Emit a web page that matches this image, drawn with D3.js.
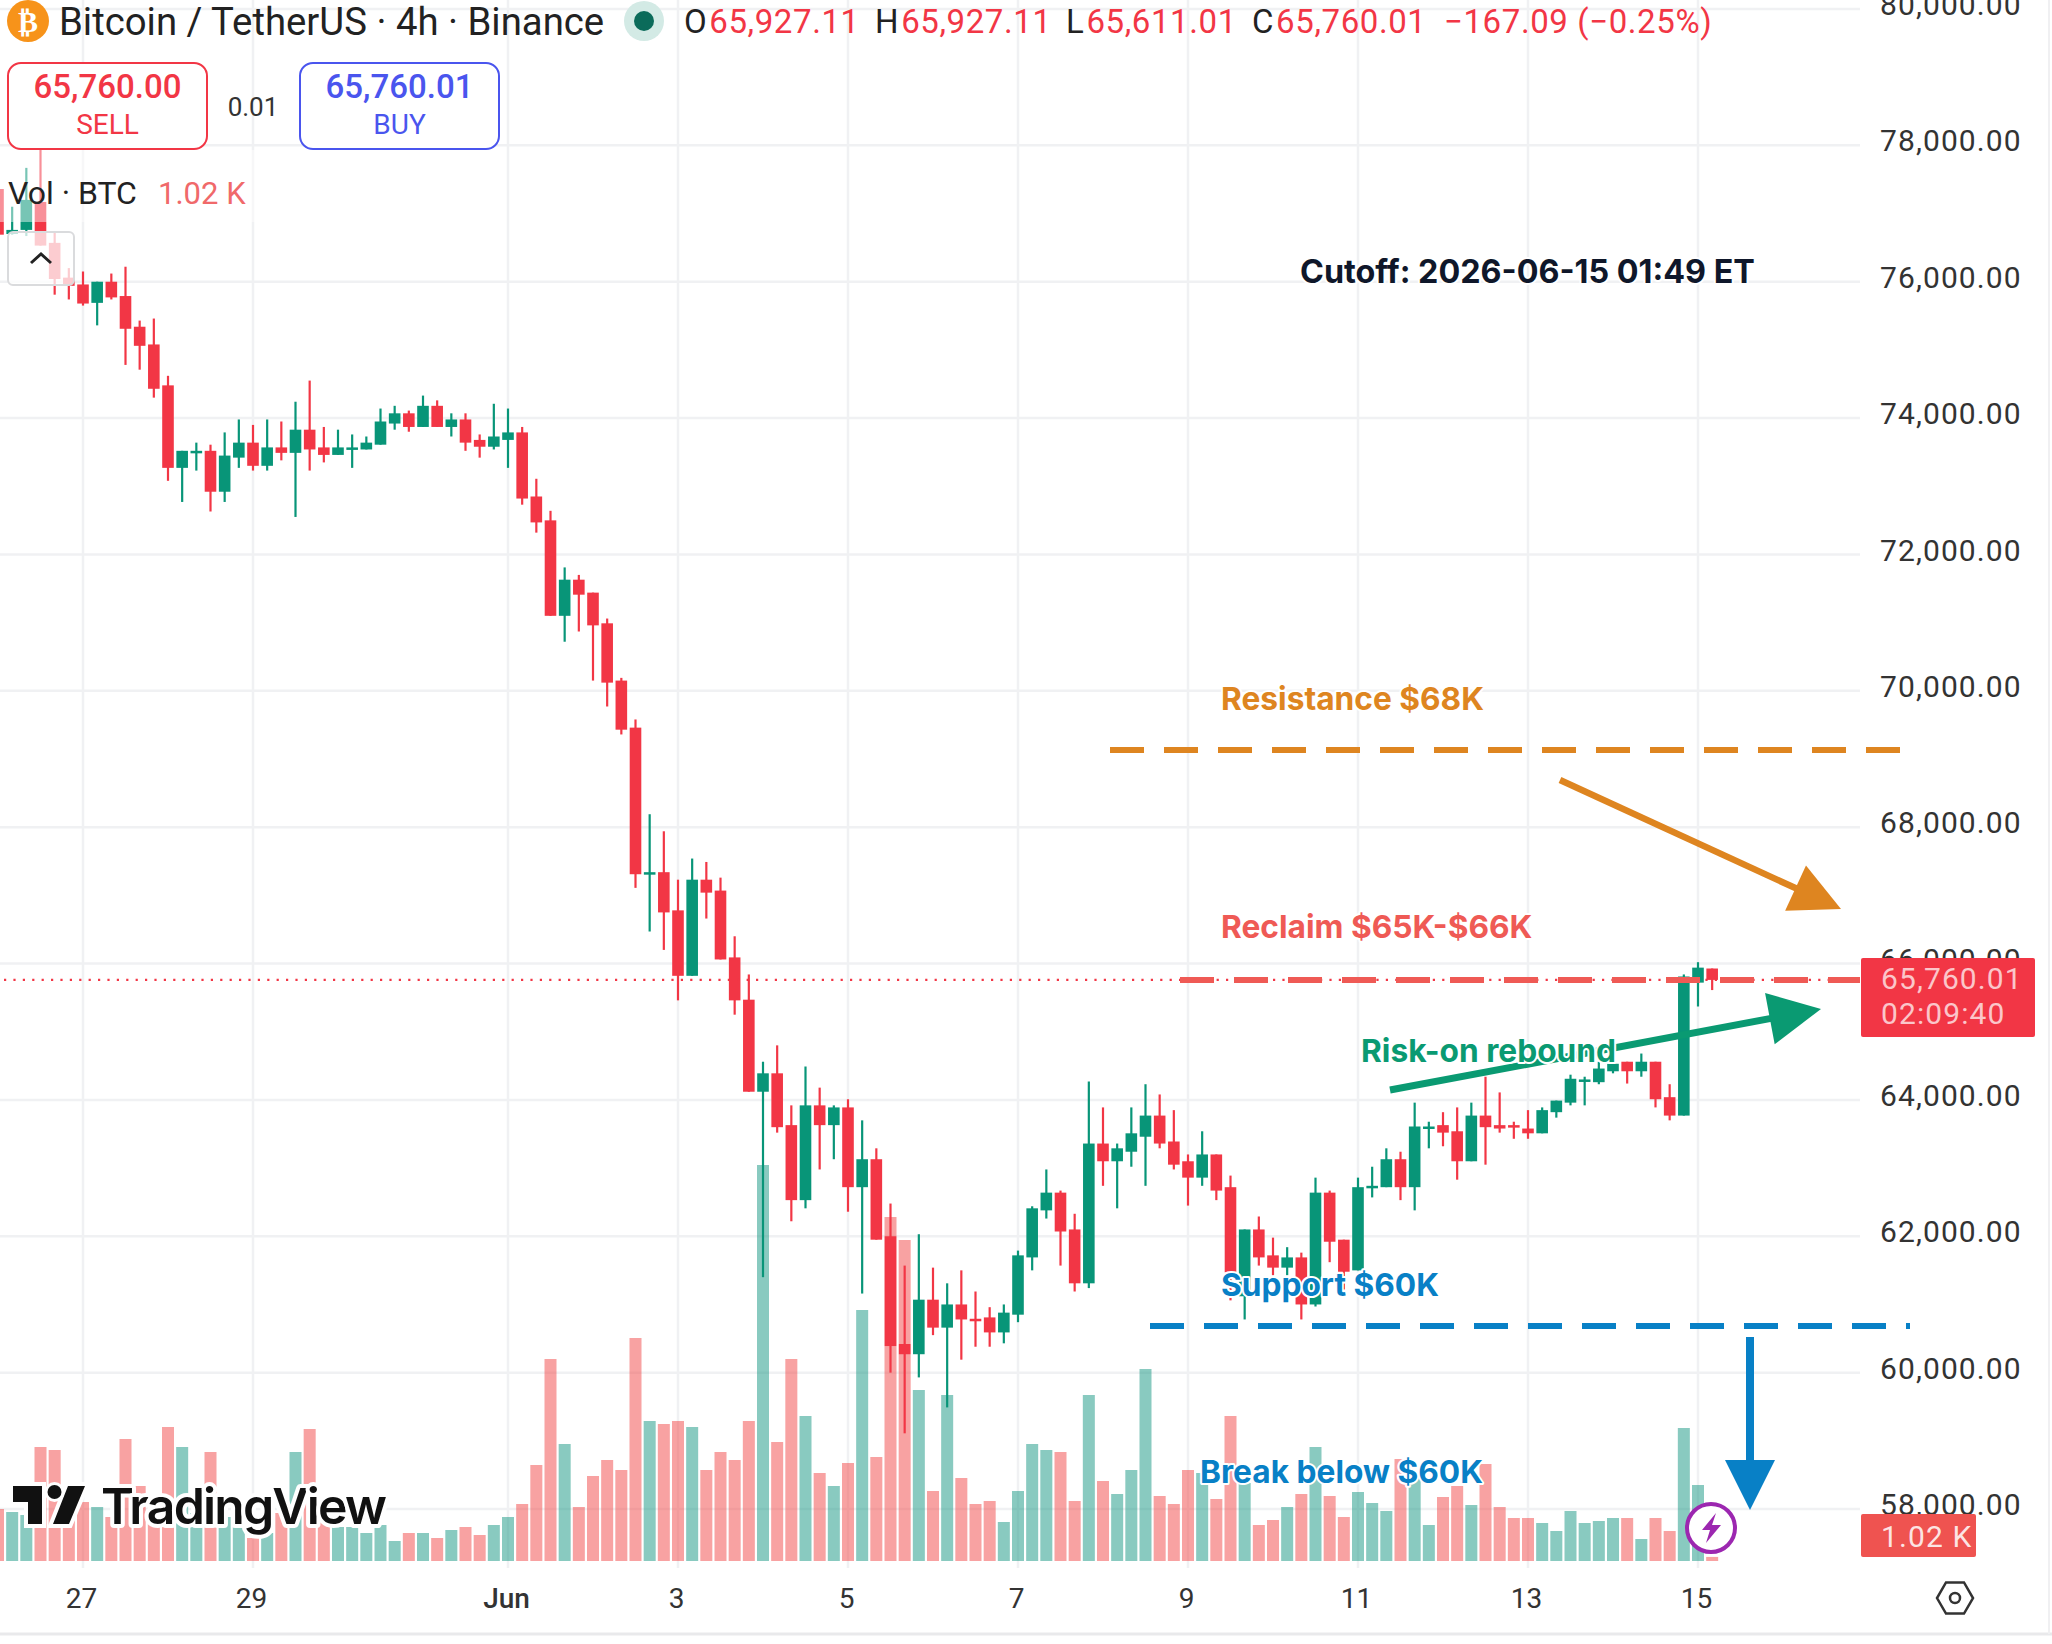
<!DOCTYPE html>
<html>
<head>
<meta charset="utf-8">
<title>BTC/USDT 4h</title>
<script src="https://cdnjs.cloudflare.com/ajax/libs/d3/7.8.5/d3.min.js"></script>
<style>
  html, body { margin: 0; padding: 0; background: #fff; }
  svg { display: block; }
  text { font-family: Roboto, sans-serif; }
</style>
</head>
<body>
<svg id="chart" width="2052" height="1644"></svg>
<script>
// 4-hour candles, oldest first. Candle 36 opens 1 June.
const opens = [77360,76700,76760,77170,76570,76060,75960,75690,76000,75790,75340,75080,74480,73270,73490,73520,72920,73420,73640,73300,73570,73490,73830,73570,73460,73550,73540,73610,73920,74070,73870,74180,73870,73980,73680,73580,73680,73790,72850,72500,71100,71630,71440,70990,70150,69460,67310,67340,66780,65820,67230,67070,66090,65470,64120,64390,63630,62530,63920,63630,63890,62720,63130,62000,60420,60270,61070,60660,61000,60790,60810,60590,60850,61690,62380,62640,62100,61310,63360,63100,63240,63460,63770,63390,63100,62860,63200,62720,61120,62100,61720,61540,61690,61000,62640,61950,61500,62730,62720,63130,62720,63600,63630,63540,63100,63770,63630,63630,63580,63510,63820,63960,64270,64260,64420,64560,64420,64560,64040,63770,65720,65927.11];
const highs = [77420,77100,77670,77940,76730,76200,76150,76000,76120,76220,75430,75460,74620,73520,73640,73610,73790,73980,73900,73980,73950,74240,74550,73870,73830,73760,73730,74140,74180,74110,74330,74260,74070,74070,73760,74210,74140,73870,73110,72640,71810,71700,71440,71060,70190,69580,68190,67940,67230,67540,67490,67260,66400,65840,64560,64800,63920,64490,64180,63920,64010,63700,63290,62480,61570,62030,61540,61310,61500,61190,60960,61000,61790,62440,62980,62670,62330,64270,63890,63360,63890,64230,64080,63850,63200,63540,63200,62890,62100,62290,61980,61840,61760,62860,62670,61950,62860,63020,63290,63240,63960,63680,63820,63890,63960,64340,64110,63680,63850,63890,63990,64370,64340,64560,64560,64560,64680,64560,64230,65840,66020,65927.11];
const lows = [76620,76690,76670,76530,75810,75740,75650,75360,75740,74780,74710,74300,73080,72770,73230,72630,72770,73270,73230,73230,73380,72550,73230,73350,73460,73270,73540,73610,73830,73800,73870,73870,73730,73520,73420,73540,73270,72730,72320,71100,70720,70870,70150,69770,69360,67110,66470,66200,65460,65820,66660,66060,65250,64120,61400,63520,62220,62410,62980,63130,62360,61160,61950,60000,59110,59930,60550,59490,60190,60380,60380,60430,60740,61500,62260,61570,61190,61240,62740,62410,63020,62740,63290,62980,62450,62740,62530,61060,60780,61570,61430,61430,60780,60970,61620,61220,61500,62570,62720,62530,62380,63290,63320,62830,63100,63050,63520,63430,63430,63510,63740,63920,63920,64230,64390,64240,64340,63890,63700,63770,65370,65611.01];
const closes = [76690,76760,77200,76530,76040,75940,75680,76000,75770,75310,75060,74430,73270,73520,73520,72920,73450,73640,73300,73570,73490,73830,73540,73460,73570,73570,73640,73950,74070,73870,74180,73870,73980,73640,73580,73730,73790,72820,72470,71100,71630,71410,70960,70120,69430,67310,67340,66750,65820,67230,67040,66060,65460,64120,64390,63600,62530,63920,63630,63890,62720,63130,61950,60390,60270,61070,60660,61000,60780,60770,60590,60880,61720,62410,62640,62070,61310,63360,63100,63290,63510,63770,63360,63050,62860,63200,62670,61470,62100,61690,61540,61690,61000,62640,61920,61480,62720,62740,63130,62720,63610,63610,63520,63100,63770,63600,63580,63600,63510,63850,63990,64310,64300,64460,64530,64420,64560,64010,63770,65810,65940,65760.01];

// Volume per candle, thousands of BTC.
const volumes = [13,12.25,11.5,28.5,27.75,11.25,14.75,13.5,11,30.5,18.75,13.5,33.5,28.5,12,27.25,11,8.5,5.75,7,12,27.25,33,12,8.5,8.5,7,9,5,7,7,5.75,7.75,8.5,6.5,9,11,14.25,24,50.5,29.25,13.5,21.25,25.25,22.75,55.75,35,34.25,35,33.5,22.75,27.25,25.25,35,99,29.75,50.5,36.25,22,18.75,24.5,62.75,26,86,80.25,42.75,17.5,41.5,20.75,14.25,15,9.75,17.5,29.25,27.75,27.25,15,41.5,20,16.75,22.75,48,16.25,14.25,22.75,22,15.5,36.25,19.5,9,10.25,13.5,16.75,28.5,16.25,11,17.25,14.5,12.5,25.5,21.5,9,16,18.75,14,24.25,13.5,10.75,10.75,9.5,7.5,12.5,9.5,10,10.75,10.75,5.5,10.75,7.5,33.25,19,1.02];

const priceTicks = [58000,60000,62000,64000,66000,68000,70000,72000,74000,76000,78000,80000];
const dayTicks = [6,18,36,48,60,72,84,96,108,120];
const dayLabels = ["27","29","Jun","3","5","7","9","11","13","15"];

const lastPrice = 65760.01, bidPrice = "65,760.00", askPrice = "65,760.01";
const resistanceLevel = 68000, supportLevel = 60000;

const RED = "#F23645", GREEN = "#089578";
const ORANGE = "#DE8520", CORAL = "#EF5A55", TEAL = "#0A9A72", BLUE = "#0880C6";

const svg = d3.select("#chart");
const x = d3.scaleLinear().domain([36, 108]).range([508, 1528]);
const y = d3.scaleLinear().domain([58000, 80000]).range([1509, 9]);
const volY = d3.scaleLinear().domain([0, 100]).range([1561, 1161]);
// The drawn support and resistance levels sit on their own overlay scale.
const levelY = d3.scaleLinear().domain([60000, 68000]).range([1326, 750]);

const paneRight = 1860, paneBottom = 1568;
const idx = d3.range(opens.length);

// Grid
const gridColor = "#F0F1F3";
svg.append("g").selectAll("line").data(priceTicks).join("line")
  .attr("x1", 0).attr("x2", paneRight).attr("y1", d => y(d)).attr("y2", d => y(d))
  .attr("stroke", gridColor).attr("stroke-width", 2.5);
svg.append("g").selectAll("line").data(dayTicks).join("line")
  .attr("x1", d => x(d)).attr("x2", d => x(d)).attr("y1", 0).attr("y2", paneBottom)
  .attr("stroke", gridColor).attr("stroke-width", 2.5);

// Pane frame
svg.append("line").attr("x1", 0).attr("x2", 2052).attr("y1", 1634).attr("y2", 1634)
  .attr("stroke", "#E9E9EB").attr("stroke-width", 3);
svg.append("line").attr("x1", 2049).attr("x2", 2049).attr("y1", 0).attr("y2", 1634)
  .attr("stroke", "#F0F0F2").attr("stroke-width", 2);

// Axes
const yAxis = d3.axisRight(y).tickValues(priceTicks).tickFormat(d3.format(",.2f")).tickSize(0).tickPadding(20);
svg.append("g").attr("transform", `translate(${paneRight},-4)`).call(yAxis)
  .call(g => g.select(".domain").remove())
  .selectAll("text").attr("font-size", 30).attr("fill", "#333").style("letter-spacing", "1.1px");

const xAxis = d3.axisBottom(x).tickValues(dayTicks).tickFormat((d, i) => dayLabels[i]).tickSize(0).tickPadding(0);
svg.append("g").attr("transform", "translate(-2,1588.5)").call(xAxis)
  .call(g => g.select(".domain").remove())
  .selectAll("text").attr("font-size", 28).attr("fill", "#333").attr("dy", "0.71em")
  .attr("font-weight", d => d === 36 ? 500 : 400);

// Volume
svg.append("g").selectAll("rect").data(idx).join("rect")
  .attr("x", d => x(d) - 6).attr("width", 12)
  .attr("y", d => volY(volumes[d])).attr("height", d => volY(0) - volY(volumes[d]))
  .attr("fill", d => closes[d] >= opens[d] ? "rgba(20,150,130,0.5)" : "rgba(242,70,70,0.5)");

// Candles
const candle = svg.append("g").selectAll("g").data(idx).join("g")
  .attr("fill", d => closes[d] >= opens[d] ? GREEN : RED)
  .attr("stroke", d => closes[d] >= opens[d] ? GREEN : RED);
candle.append("line")
  .attr("x1", d => x(d)).attr("x2", d => x(d))
  .attr("y1", d => y(highs[d])).attr("y2", d => y(lows[d]))
  .attr("stroke-width", 2.2);
candle.append("rect")
  .attr("x", d => x(d) - 5.8).attr("width", 11.6)
  .attr("y", d => y(Math.max(opens[d], closes[d])))
  .attr("height", d => Math.max(2.5, Math.abs(y(opens[d]) - y(closes[d]))))
  .attr("stroke", "none");

// Last price line
svg.append("line").attr("x1", 4).attr("x2", paneRight).attr("y1", y(lastPrice)).attr("y2", y(lastPrice))
  .attr("stroke", RED).attr("stroke-width", 2.2).attr("stroke-dasharray", "2.2 7.2");

// Legend veil over the oldest candles, then legend widgets
svg.append("rect").attr("x", 0).attr("y", 150).attr("width", 260).attr("height", 72).attr("fill", "rgba(255,255,255,0.45)");
svg.append("rect").attr("x", 8).attr("y", 232).attr("width", 66).attr("height", 53).attr("rx", 5)
  .attr("fill", "rgba(255,255,255,0.75)").attr("stroke", "#DADBDD").attr("stroke-width", 2);
svg.append("path").attr("d", "M31 263 L41 254 L51 263").attr("fill", "none").attr("stroke", "#222").attr("stroke-width", 3);

svg.append("circle").attr("cx", 28).attr("cy", 21).attr("r", 21).attr("fill", "#F7931A");
svg.append("text").attr("x", 28).attr("y", 32).attr("text-anchor", "middle").attr("fill", "#fff")
  .attr("font-size", 30).attr("font-weight", 700).style("font-family", "DejaVu Sans").text("₿");
svg.append("text").attr("x", 59).attr("y", 35).attr("font-size", 38.3).attr("fill", "#222").text("Bitcoin / TetherUS · 4h · Binance");
svg.append("circle").attr("cx", 644).attr("cy", 21).attr("r", 20).attr("fill", "#D3EAE5");
svg.append("circle").attr("cx", 644).attr("cy", 21).attr("r", 10).attr("fill", "#0B6B5A");

const ohlc = [["O","65,927.11",684],["H","65,927.11",875],["L","65,611.01",1066],["C","65,760.01",1252]];
ohlc.forEach(([k, v, px]) => {
  const t = svg.append("text").attr("x", px).attr("y", 33).attr("font-size", 33).style("letter-spacing", "0.6px");
  t.append("tspan").attr("fill", "#222").text(k);
  t.append("tspan").attr("fill", RED).attr("dx", 2).text(v);
});
svg.append("text").attr("x", 1444).attr("y", 33).attr("font-size", 33).style("letter-spacing", "0.6px").attr("fill", RED).text("−167.09 (−0.25%)");

[[8, RED, bidPrice, "SELL"], [300, "#4A55EE", askPrice, "BUY"]].forEach(([bx, c, p, lab]) => {
  svg.append("rect").attr("x", bx).attr("y", 63).attr("width", 199).attr("height", 86).attr("rx", 13)
    .attr("fill", "#fff").attr("stroke", c).attr("stroke-width", 2);
  svg.append("text").attr("x", bx + 99.5).attr("y", 98).attr("text-anchor", "middle")
    .attr("font-size", 33).attr("font-weight", 500).attr("fill", c).text(p);
  svg.append("text").attr("x", bx + 99.5).attr("y", 134).attr("text-anchor", "middle")
    .attr("font-size", 28).attr("fill", c).text(lab);
});
svg.append("text").attr("x", 253).attr("y", 116).attr("text-anchor", "middle").attr("font-size", 26).attr("fill", "#333").text("0.01");
svg.append("text").attr("x", 8).attr("y", 204).attr("font-size", 32).attr("fill", "#222").text("Vol · BTC");
svg.append("text").attr("x", 158).attr("y", 204).attr("font-size", 31).attr("fill", "#F0696A").text("1.02 K");

// Watermark
const logo = svg.append("g");
const mark = "M13 1486 H42 V1524 H28 V1502 H13 Z M68 1486 H85 L69 1524 H53 Z";
logo.append("path").attr("d", mark).attr("fill", "#111").attr("stroke", "#fff").attr("stroke-width", 8).attr("paint-order", "stroke");
logo.append("circle").attr("cx", 54.5).attr("cy", 1492).attr("r", 7).attr("fill", "#111").attr("stroke", "#fff").attr("stroke-width", 6).attr("paint-order", "stroke");
logo.append("text").attr("x", 101).attr("y", 1524).attr("font-size", 50).attr("font-weight", 600)
  .style("font-family", "Inter").attr("fill", "#111").attr("stroke", "#fff").attr("stroke-width", 8)
  .attr("paint-order", "stroke").attr("stroke-linejoin", "round").attr("textLength", 286).text("TradingView");

// Overlay levels
const dash = "34 20";
svg.append("line").attr("x1", 1110).attr("x2", 1900).attr("y1", levelY(resistanceLevel)).attr("y2", levelY(resistanceLevel))
  .attr("stroke", ORANGE).attr("stroke-width", 6).attr("stroke-dasharray", dash);
svg.append("line").attr("x1", 1180).attr("x2", paneRight).attr("y1", y(lastPrice)).attr("y2", y(lastPrice))
  .attr("stroke", CORAL).attr("stroke-width", 6).attr("stroke-dasharray", dash);
svg.append("line").attr("x1", 1150).attr("x2", 1910).attr("y1", levelY(supportLevel)).attr("y2", levelY(supportLevel))
  .attr("stroke", BLUE).attr("stroke-width", 6).attr("stroke-dasharray", dash);

// Overlay arrows: shaft then head
function arrow(x0, y0, x1, y1, width, headLen, headHalf, color) {
  const L = Math.hypot(x1 - x0, y1 - y0), ux = (x1 - x0) / L, uy = (y1 - y0) / L;
  const bx = x1 - ux * headLen, by = y1 - uy * headLen;
  svg.append("line").attr("x1", x0).attr("y1", y0).attr("x2", bx + ux * 4).attr("y2", by + uy * 4)
    .attr("stroke", color).attr("stroke-width", width);
  svg.append("path").attr("fill", color)
    .attr("d", `M${x1} ${y1} L${bx - uy * headHalf} ${by + ux * headHalf} L${bx + uy * headHalf} ${by - ux * headHalf} Z`);
}
arrow(1560, 780, 1841, 909, 6.5, 50, 25, ORANGE);
arrow(1390, 1090, 1821, 1009, 7, 52, 26, TEAL);
arrow(1750, 1337, 1750, 1510, 8, 50, 25, BLUE);

// Overlay labels
const notes = [
  ["Cutoff: 2026-06-15 01:49 ET", 1300, 283, "#0F172A", 32.3],
  ["Resistance $68K", 1221, 710, ORANGE, 31.7],
  ["Reclaim $65K-$66K", 1221, 938, CORAL, 31.7],
  ["Risk-on rebound", 1361, 1062, TEAL, 31.7],
  ["Support $60K", 1221, 1296, BLUE, 31.7],
  ["Break below $60K", 1200, 1483, BLUE, 31.7]
];
svg.append("g").selectAll("text").data(notes).join("text")
  .attr("x", d => d[1]).attr("y", d => d[2]).attr("fill", d => d[3]).attr("font-size", d => d[4])
  .attr("font-weight", 700).style("font-family", "Inter")
  .attr("stroke", "#fff").attr("stroke-width", 4).attr("paint-order", "stroke").attr("stroke-linejoin", "round")
  .text(d => d[0]);

// Price and volume tags
svg.append("rect").attr("x", 1861).attr("y", 958).attr("width", 174).attr("height", 79).attr("rx", 2).attr("fill", RED);
svg.append("text").attr("x", 1881).attr("y", 989).attr("font-size", 30).attr("fill", "rgba(255,255,255,0.72)").style("letter-spacing", "1.1px").text("65,760.01");
svg.append("text").attr("x", 1881).attr("y", 1024).attr("font-size", 30).attr("fill", "rgba(255,255,255,0.72)").style("letter-spacing", "1.1px").text("02:09:40");
svg.append("rect").attr("x", 1861).attr("y", 1514).attr("width", 115).attr("height", 43).attr("rx", 2).attr("fill", "#EF5350");
svg.append("text").attr("x", 1881).attr("y", 1547).attr("font-size", 30).attr("fill", "rgba(255,255,255,0.85)").style("letter-spacing", "1.1px").text("1.02 K");

// Bolt badge and settings hexagon
svg.append("circle").attr("cx", 1711).attr("cy", 1528).attr("r", 24).attr("fill", "#fff").attr("stroke", "#9C27B0").attr("stroke-width", 4);
svg.append("path").attr("fill", "#9C27B0").attr("d", "M1716 1513 L1702 1530 L1710 1530 L1706 1543 L1721 1525 L1712 1525 Z");
const hex = d3.range(6).map(i => [1955 + 18 * Math.cos(i * Math.PI / 3), 1598 + 18 * Math.sin(i * Math.PI / 3)]);
svg.append("path").attr("d", d3.line()(hex) + "Z").attr("fill", "none").attr("stroke", "#333").attr("stroke-width", 2.5);
svg.append("circle").attr("cx", 1955).attr("cy", 1598).attr("r", 5).attr("fill", "none").attr("stroke", "#333").attr("stroke-width", 2.5);
</script>
</body>
</html>
